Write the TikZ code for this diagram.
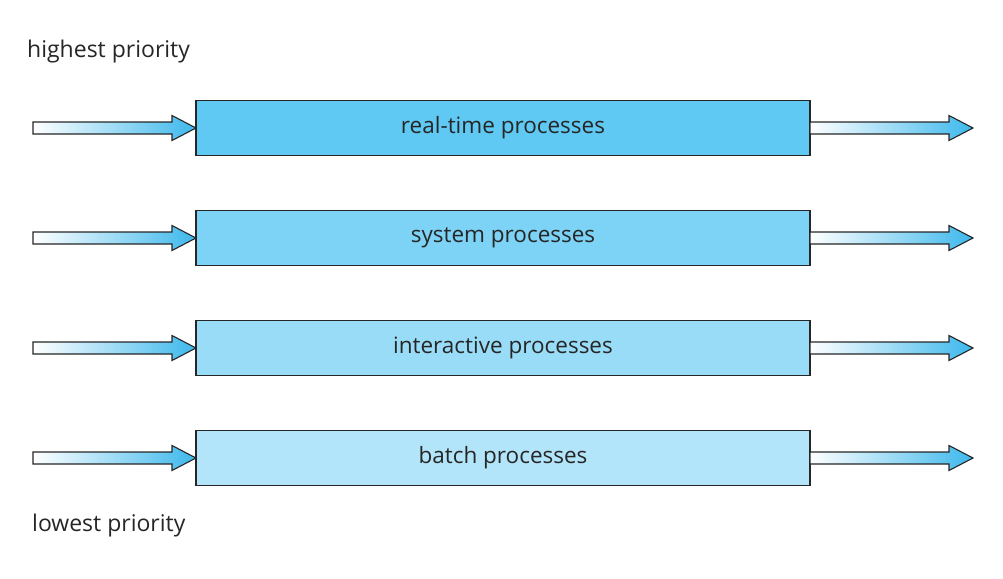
\documentclass[tikz,border=0pt]{standalone}
\usepackage{fontspec}
\setmainfont{Open Sans}
\begin{document}
\begin{tikzpicture}[x=1pt,y=-1pt,
  box/.style={draw=black!85,line width=1.1pt,minimum width=614pt,minimum height=55pt,inner sep=0pt,font=\fontsize{22.5}{26}\selectfont,text=black!85},
  lbl/.style={font=\fontsize{23}{26}\selectfont,text=black!85,inner sep=0pt}]
\useasboundingbox (0,0) rectangle (1003,578);
\definecolor{c1}{HTML}{5FC9F3}
\definecolor{c2}{HTML}{7DD3F5}
\definecolor{c3}{HTML}{99DCF7}
\definecolor{c4}{HTML}{B3E5FA}
\definecolor{ab}{HTML}{3DB8EC}
\newcommand{\myarrow}[3]{% x0, x1, y
  \draw[draw=black!85,line width=1.1pt,left color=white,right color=ab]
   (#1,#3-6) -- (#2-24,#3-6) -- (#2-24,#3-12.5) -- (#2,#3) -- (#2-24,#3+12.5) -- (#2-24,#3+6) -- (#1,#3+6) -- cycle;}
\node[lbl,anchor=west] (hi) at (27,52) {highest priority};
\node[lbl,anchor=west] (lo) at (32,526) {lowest priority};
\foreach \y/\c/\t [count=\i] in {128/c1/real-time processes,238/c2/system processes,348/c3/interactive processes,458/c4/batch processes}{
  \node[box,fill=\c] (b\i) at (503,\y) {\t};
  \myarrow{33}{196}{\y}
  \myarrow{810}{973}{\y}
}
\end{tikzpicture}
\end{document}
